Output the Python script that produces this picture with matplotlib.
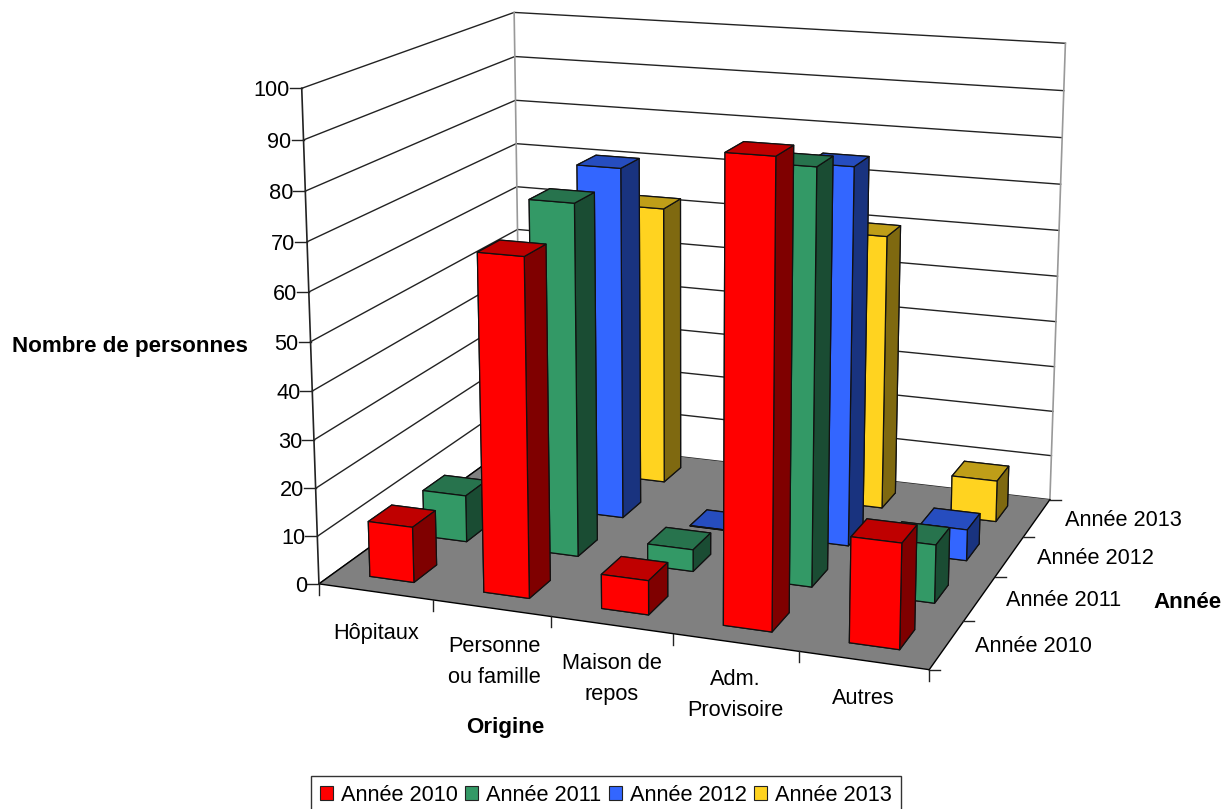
import matplotlib
matplotlib.use('Agg')
import matplotlib.pyplot as plt
from matplotlib.patches import Patch
from mpl_toolkits.mplot3d.art3d import Poly3DCollection
import numpy as np

categories = ['Hôpitaux', 'Personne\nou famille', 'Maison de\nrepos', 'Adm.\nProvisoire', 'Autres']
years = ['Année 2010', 'Année 2011', 'Année 2012', 'Année 2013']
annee_2010 = [11.6, 69, 7, 92, 21]
annee_2011 = [10, 74, 4.6, 85, 12]
annee_2012 = [0, 76, 0.1, 80, 6.6]
annee_2013 = [0, 62, 0, 60, 9]
z_ticks = [0, 10, 20, 30, 40, 50, 60, 70, 80, 90, 100]

front = ['#FF0000', '#339966', '#3366FF', '#FFD320']
top = ['#BF0000', '#27734D', '#264DBF', '#BF9E18']
side = ['#7F0000', '#1A4C33', '#19337F', '#7F6910']

W, H = 1223, 809
X_LO, X_HI = 0.305, 0.695
Y_LO, Y_HI = 0.29, 0.71

# where the plot box lands on the canvas: (cat, series, value) -> (px, py)
anchors = [
    ((0, 0, 0), (320, 584)), ((1, 0, 0), (433, 600)), ((2, 0, 0), (552, 618)),
    ((4, 0, 0), (798, 652)), ((5, 0, 0), (929, 669)), ((5, 1, 0), (963, 620)),
    ((5, 2, 0), (995, 578)), ((5, 3, 0), (1023, 537)), ((5, 4, 0), (1051, 500)),
    ((0, 4, 0), (518, 437)), ((0, 0, 100), (300, 88)), ((0, 4, 100), (515, 13)),
    ((5, 4, 100), (1065, 43)), ((0, 0, 50), (311, 341)), ((0, 4, 50), (519, 230)),
]


def fit_camera(pairs):
    rows, rhs = [], []
    for (x, y, z), (u, v) in pairs:
        rows.append([x, y, z, 1, 0, 0, 0, 0, -u * x, -u * y, -u * z])
        rows.append([0, 0, 0, 0, x, y, z, 1, -v * x, -v * y, -v * z])
        rhs += [u, v]
    p = np.linalg.lstsq(np.array(rows, float), np.array(rhs, float), rcond=None)[0]
    return np.append(p, 1).reshape(3, 4)


cam = fit_camera(anchors)
proj = np.vstack([cam[0], cam[1], cam[2] - [0, 0, 0, 0.5], cam[2]])


def to_px(x, y, z):
    u, v, w = cam @ [x, y, z, 1]
    return u / w, v / w


plt.rcParams['font.family'] = ['Liberation Sans', 'DejaVu Sans']
plt.rcParams['font.size'] = 15.7

fig = plt.figure(figsize=(W / 100, H / 100), dpi=100)
ax = fig.add_axes([0, 0, 1, 1], projection='3d', proj_type='ortho', computed_zorder=False)
ax.get_proj = lambda: proj
ax.apply_aspect = lambda position=None: None
ax.set_axis_off()
ax.viewLim.intervalx = (0, W)
ax.viewLim.intervaly = (H, 0)

# floor
floor = Poly3DCollection([[(0, 0, 0), (5, 0, 0), (5, 4, 0), (0, 4, 0)]], facecolor='#808080',
                         edgecolor='none', zorder=2)
ax.add_collection3d(floor)
ax.plot([0, 5], [0, 0], [0, 0], c='k', lw=1, zorder=2.5)
ax.plot([5, 5], [0, 4], [0, 0], c='k', lw=1, zorder=2.5)
ax.plot([0, 0], [0, 4], [0, 0], c='k', lw=1, zorder=2.5)

# walls
for v in z_ticks:
    ax.plot([0, 0, 5], [0, 4, 4], [v, v, v], c='#222222', lw=1, zorder=1)
ax.plot([0, 0], [4, 4], [0, 100], c='#999999', lw=1.2, zorder=1.5)
ax.plot([5, 5], [4, 4], [0, 100], c='#999999', lw=1.2, zorder=1.5)
ax.plot([0, 0], [0, 0], [0, 100], c='#222222', lw=1.2, zorder=3)

# bars, back row first
series = [annee_2010, annee_2011, annee_2012, annee_2013]
order = 4
for j in range(3, -1, -1):
    for i, val in enumerate(series[j]):
        if val <= 0:
            continue
        # faces: bottom, top, front, back, left, right
        colors = [side[j], top[j], front[j], side[j], side[j], side[j]]
        ax.bar3d(i + X_LO, j + Y_LO, 0, X_HI - X_LO, Y_HI - Y_LO, val, color=colors,
                 shade=False, edgecolor='#111111', linewidth=0.9, zorder=order)
        order += 1

# ticks and labels are in canvas pixels
over = fig.add_axes([0, 0, 1, 1], facecolor='none')
over.set_xlim(0, W)
over.set_ylim(H, 0)
over.axis('off')

for v in z_ticks:
    px, py = to_px(0, 0, v)
    over.plot([px - 12, px], [py, py], c='#222222', lw=1)
    over.text(px - 12, py, str(v), ha='right', va='center_baseline')
for i in range(6):
    px, py = to_px(i, 0, 0)
    over.plot([px, px], [py, py + 11], c='#222222', lw=1)
for j in range(5):
    px, py = to_px(5, j, 0)
    over.plot([px, px + 11], [py, py], c='#222222', lw=1)

cat_pos = [(376, 633), (494, 662), (612, 679), (735, 695), (863, 699)]
for name, (px, py) in zip(categories, cat_pos):
    over.text(px, py, name, ha='center', va='center', linespacing=1.58)
year_pos = [(1033, 647), (1064, 601), (1095, 559), (1123, 521)]
for name, (px, py) in zip(years, year_pos):
    over.text(px, py, name, ha='center', va='center')

over.text(130, 346, 'Nombre de personnes', ha='center', va='center', fontweight='bold', fontsize=16.1)
over.text(505, 728, 'Origine', ha='center', va='center', fontweight='bold', fontsize=16.1)
over.text(1188, 603, 'Année', ha='center', va='center', fontweight='bold', fontsize=16.1)

handles = [Patch(facecolor=c, edgecolor='#222222', linewidth=0.8) for c in front]
fig.legend(handles, years, ncol=4, loc='lower center', bbox_to_anchor=(606 / W, -6 / H),
           fancybox=False, framealpha=1, edgecolor='#333333', borderpad=0.42, handlelength=0.58,
           handleheight=0.58, handletextpad=0.37, columnspacing=0.35, borderaxespad=0)

fig.savefig('out.png', dpi=100)
